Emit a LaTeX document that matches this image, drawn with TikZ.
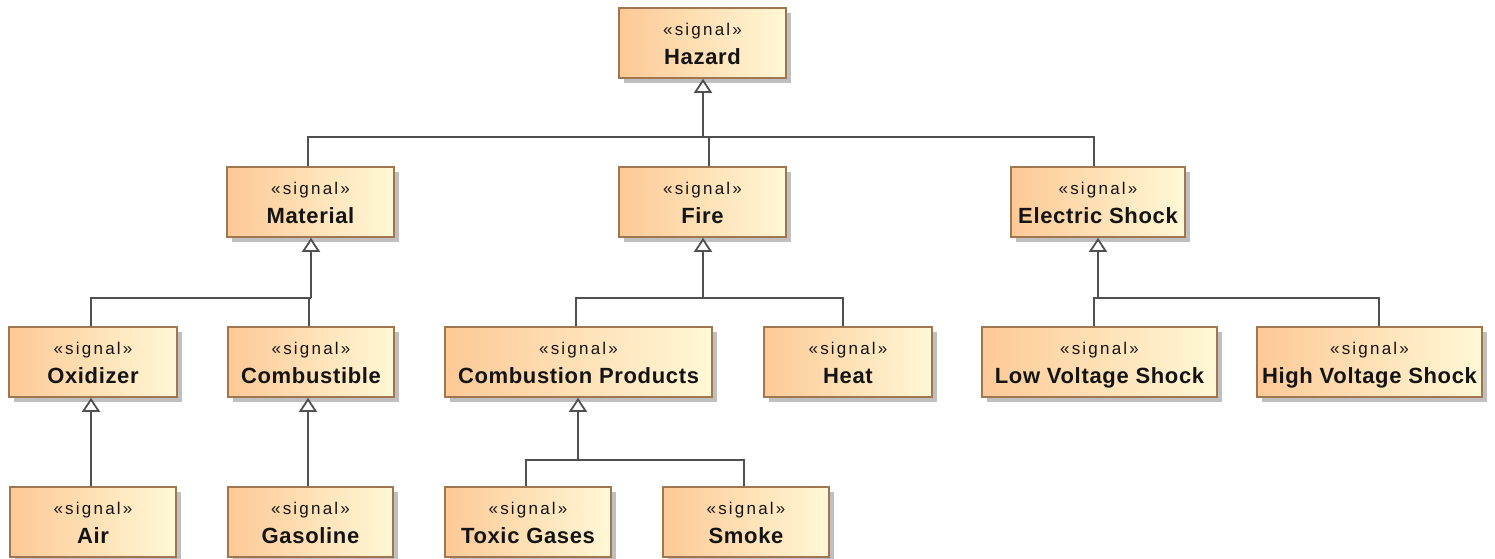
\documentclass[tikz,border=0pt]{standalone}
\usepackage{fontspec}
\usetikzlibrary{arrows.meta,shadows}
\newfontfamily\stfont[LetterSpace=13]{Liberation Sans}
\newfontfamily\nmfont[LetterSpace=3]{Liberation Sans}
\definecolor{boxL}{RGB}{253,201,150}
\definecolor{boxR}{RGB}{255,248,214}
\definecolor{boxB}{RGB}{160,118,80}
\definecolor{lineC}{RGB}{80,80,80}
\definecolor{txtC}{RGB}{20,20,20}
\tikzset{
  sbox/.style={rectangle, draw=boxB, line width=1.6pt, left color=boxL, right color=boxR,
    minimum height=70pt, inner sep=0pt,
    drop shadow={shadow xshift=5pt, shadow yshift=-5pt, fill=black!25, opacity=1}},
  stereo/.style={inner sep=0pt, text=txtC, font=\stfont\fontsize{17}{19}\selectfont},
  sname/.style={inner sep=0pt, text=txtC, font=\nmfont\bfseries\fontsize{22}{24}\selectfont},
  conn/.style={draw=lineC, line width=1.8pt},
  gen/.style={conn, -{Triangle[open, length=14pt, width=18pt]}},
}
% #1 node name, #2 centre x, #3 top y, #4 width, #5 signal name
\newcommand\sigbox[5]{%
  \node[sbox, minimum width=#4pt] (#1) at (#2,#3+35) {};
  \node[stereo, anchor=base] at ([yshift=8pt]#1.center) {«signal»};
  \node[sname, anchor=base] at ([yshift=-21pt]#1.center) {#5};
}
\begin{document}
\begin{tikzpicture}[x=1pt, y=-1pt]
  \fill[white] (0,0) rectangle (1495,558);
  \useasboundingbox (0,0) rectangle (1495,558);

  % level 1
  \sigbox{haz}{702.5}{8}{167}{Hazard}
  % level 2
  \sigbox{mat}{310.5}{167}{167}{Material}
  \sigbox{fire}{702.5}{167}{167}{Fire}
  \sigbox{elec}{1098}{167}{174}{Electric Shock}
  % level 3
  \sigbox{oxi}{93}{327}{168}{Oxidizer}
  \sigbox{comb}{311}{327}{166}{Combustible}
  \sigbox{cp}{578.5}{327}{267}{Combustion Products}
  \sigbox{heat}{848}{327}{168}{Heat}
  \sigbox{low}{1099.5}{327}{235}{Low Voltage Shock}
  \sigbox{high}{1369.5}{327}{225}{High Voltage Shock}
  % level 4
  \sigbox{air}{93}{487}{166}{Air}
  \sigbox{gas}{310.5}{487}{165}{Gasoline}
  \sigbox{tox}{528}{487}{166}{Toxic Gases}
  \sigbox{smoke}{746}{487}{166}{Smoke}

  % junctions of the generalization trees
  \coordinate (jHaz) at (703,137);
  \coordinate (jMat) at (311,298);
  \coordinate (jFire) at (703,298);
  \coordinate (jElec) at (1098,298);
  \coordinate (jCp) at (578,460);

  % Hazard
  \draw[conn] ([xshift=-2.5pt]mat.north) |- (jHaz);
  \draw[conn] ([xshift=6.5pt]fire.north) |- (jHaz);
  \draw[conn] ([xshift=-4pt]elec.north) |- (jHaz);
  \draw[gen] (jHaz) -- (haz.south -| jHaz);
  % Material
  \draw[conn] ([xshift=-2pt]oxi.north) |- (jMat);
  \draw[conn] ([xshift=-2pt]comb.north) |- (jMat);
  \draw[gen] (jMat) -- (mat.south -| jMat);
  % Fire
  \draw[conn] ([xshift=-2.5pt]cp.north) |- (jFire);
  \draw[conn] ([xshift=-5pt]heat.north) |- (jFire);
  \draw[gen] (jFire) -- (fire.south -| jFire);
  % Electric Shock
  \draw[conn] ([xshift=-5.5pt]low.north) |- (jElec);
  \draw[conn] ([xshift=9.5pt]high.north) |- (jElec);
  \draw[gen] (jElec) -- (elec.south -| jElec);
  % Oxidizer and Combustible
  \draw[gen] ([xshift=-2pt]air.north) -- ([xshift=-2pt]air.north |- oxi.south);
  \draw[gen] ([xshift=-2.5pt]gas.north) -- ([xshift=-2.5pt]gas.north |- comb.south);
  % Combustion Products
  \draw[conn] ([xshift=-2pt]tox.north) |- (jCp);
  \draw[conn] ([xshift=-2pt]smoke.north) |- (jCp);
  \draw[gen] (jCp) -- (cp.south -| jCp);
\end{tikzpicture}
\end{document}
